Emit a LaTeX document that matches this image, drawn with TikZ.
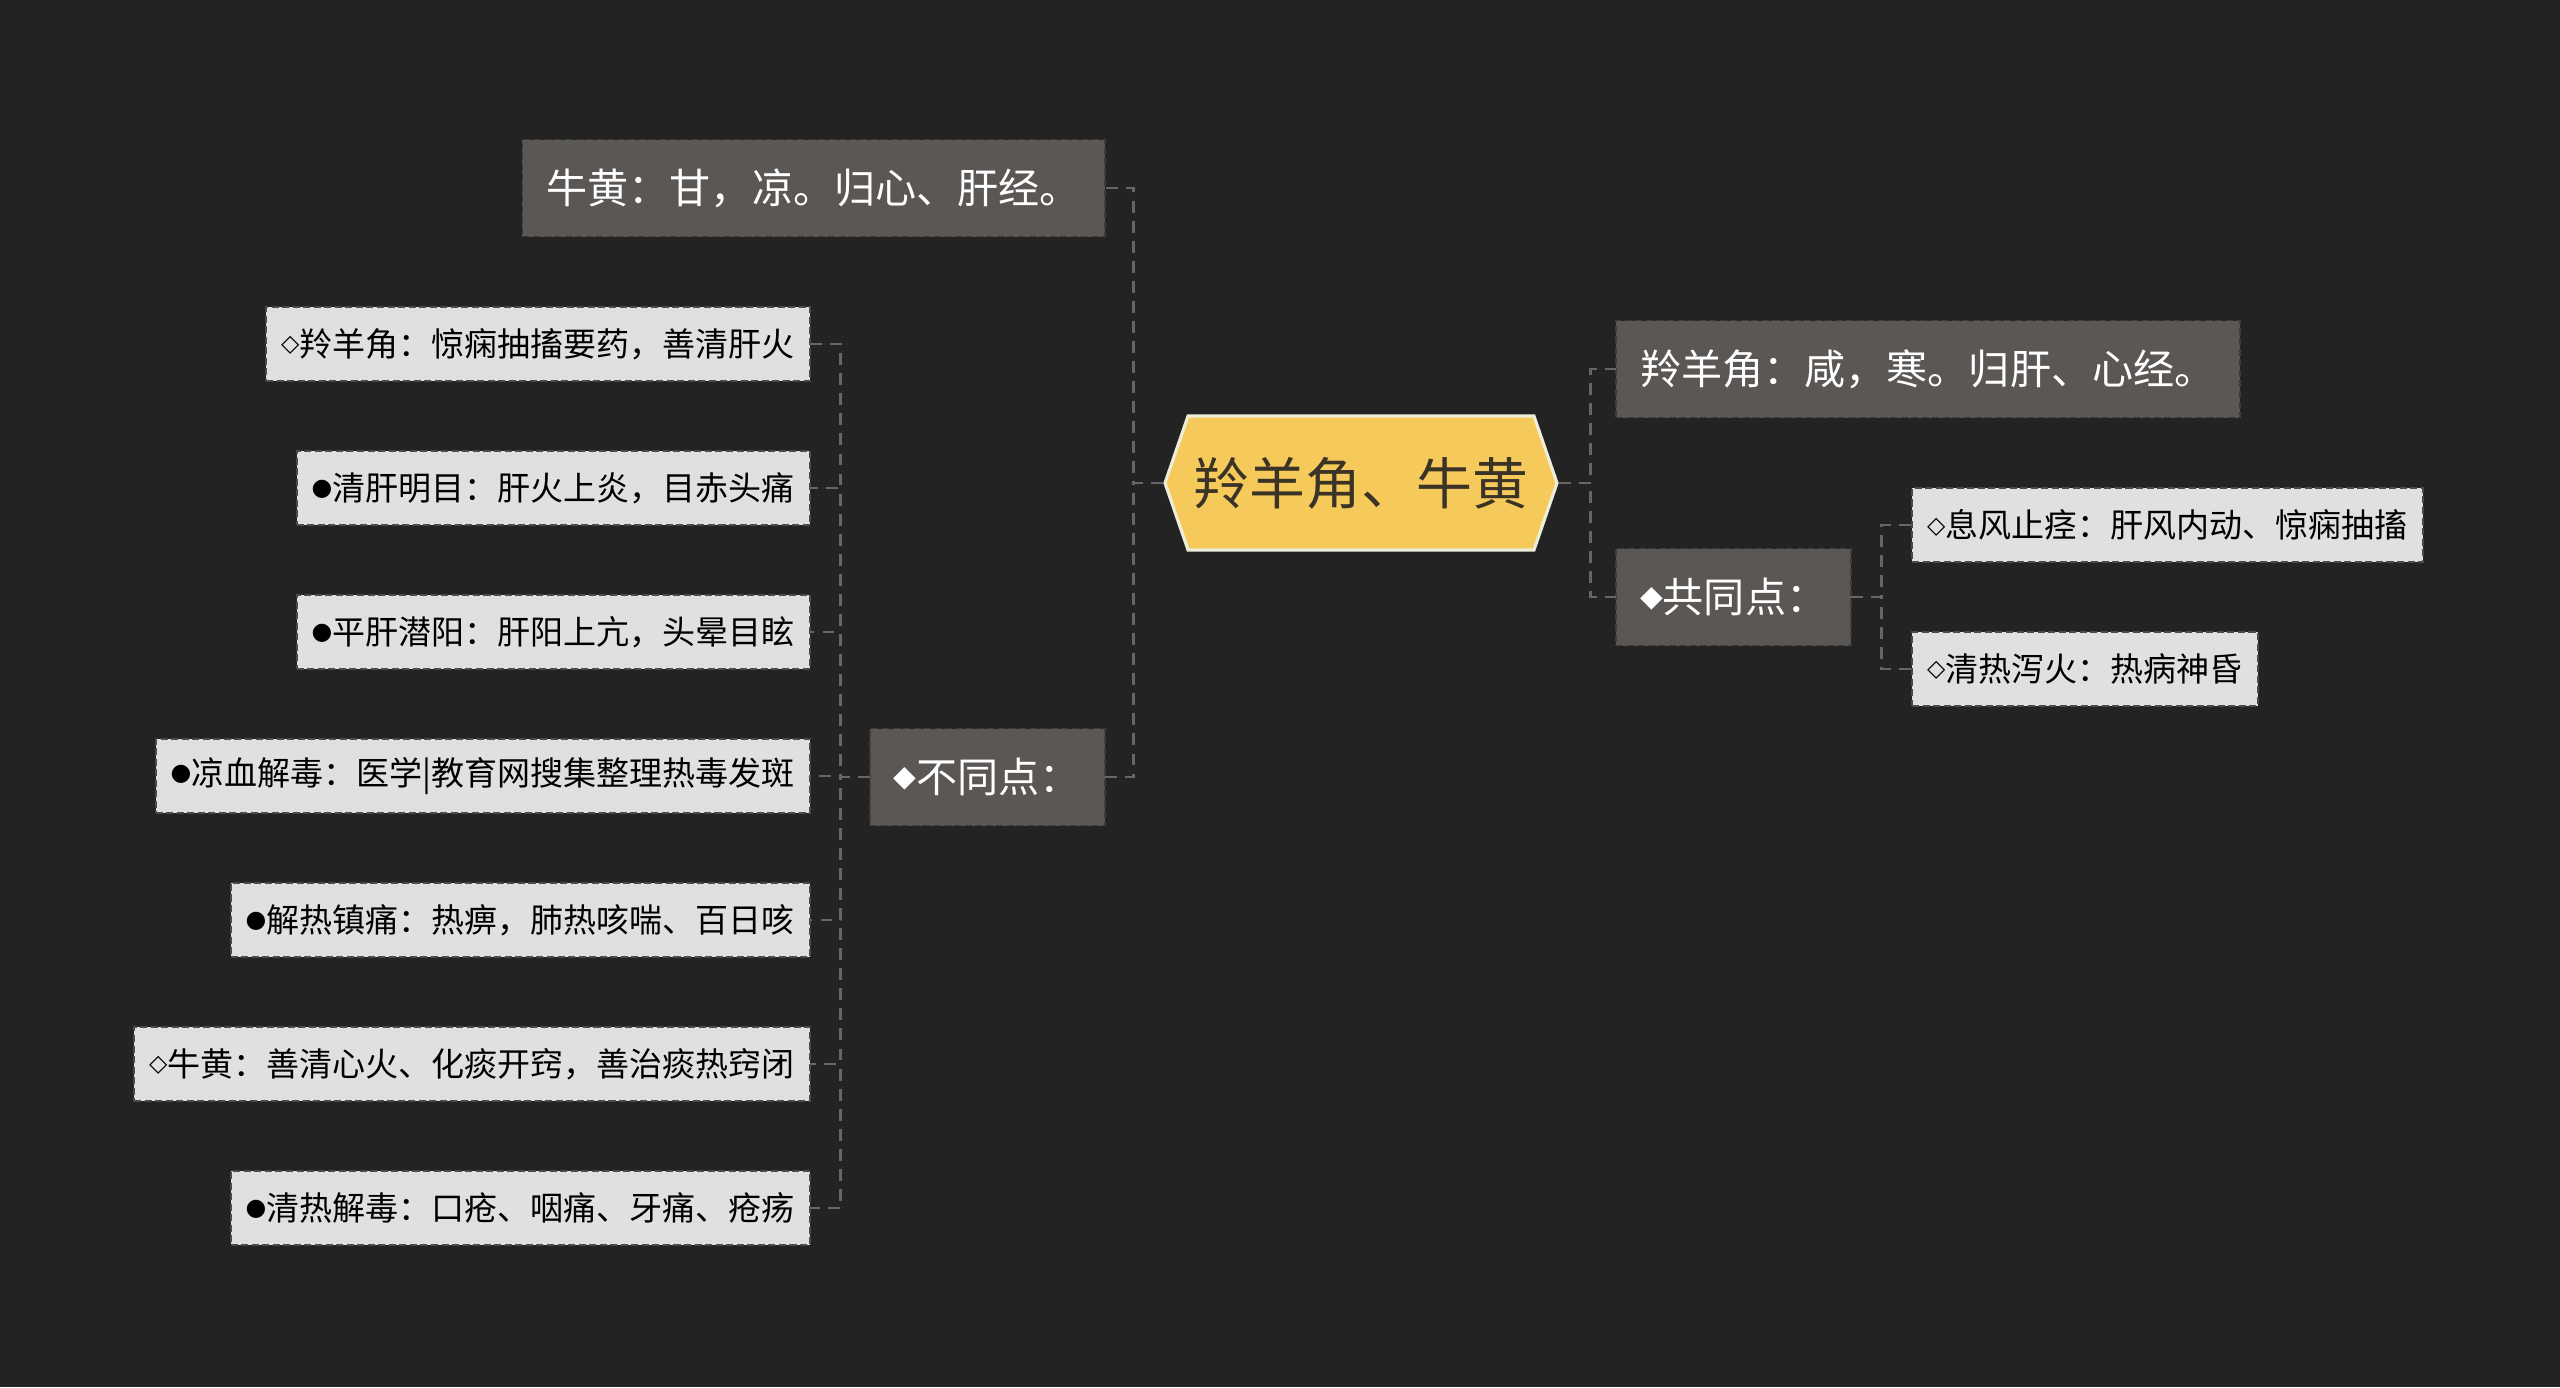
\documentclass[tikz,border=0pt]{standalone}
\usepackage{fontspec}
\setmainfont{Noto Sans CJK SC}
\newfontfamily\symfont{DejaVu Sans}
\usepackage{tikz}
\usetikzlibrary{positioning, shapes.symbols}

\definecolor{bgdark}{HTML}{232323}
\definecolor{hubfill}{HTML}{F5C95A}
\definecolor{hubline}{HTML}{EEEDD9}
\definecolor{hubtext}{HTML}{3A3326}
\definecolor{mainfill}{HTML}{5A5755}
\definecolor{mainline}{HTML}{3E3C3A}
\definecolor{leaffill}{HTML}{E0E0DF}
\definecolor{leafline}{HTML}{4A4A4A}
\definecolor{linkgray}{HTML}{666666}

% small list marks
\newcommand{\mk}[1]{\raisebox{0.14em}{\fontsize{0.72em}{1em}\selectfont\symfont #1}}

\begin{document}
\begin{tikzpicture}[
  hub/.style={signal, signal to=west and east, signal pointer angle=142,
    fill=hubfill, draw=hubline, line width=0.9pt, text=hubtext,
    minimum width=3.92cm, minimum height=1.34cm, inner sep=0pt,
    font=\fontsize{15.9pt}{18pt}\selectfont},
  mainbox/.style={rectangle, fill=mainfill, draw=mainline, line width=0.5pt,
    dash pattern=on 2pt off 1pt, text=white, minimum height=0.97cm,
    inner xsep=0.24cm, inner ysep=0pt, outer sep=0pt,
    font=\fontsize{11.7pt}{14pt}\selectfont},
  leaf/.style={rectangle, fill=leaffill, draw=leafline, line width=0.5pt,
    dash pattern=on 2pt off 1pt, text=black, minimum height=0.74cm,
    inner xsep=0.15cm, inner ysep=0pt, outer sep=0pt,
    font=\fontsize{9.4pt}{12pt}\selectfont},
  link/.style={draw=linkgray, line width=0.75pt, dash pattern=on 3.4pt off 2.3pt},
]
  \fill[bgdark] (0,0) rectangle (25.6,-13.87);
  \useasboundingbox (0,0) rectangle (25.6,-13.87);

  \node[hub] (hub) at (13.61,-4.83) {羚羊角、牛黄};

  % left side
  \node[mainbox, anchor=east] (niu) at (11.05,-1.88) {牛黄：甘，凉。归心、肝经。};
  \node[mainbox, anchor=east] (diff) at (11.05,-7.77) {\mk{◆}不同点：};

  \node[leaf, anchor=east] (d1) at (8.10,-3.44) {\mk{◇}羚羊角：惊痫抽搐要药，善清肝火};
  \node[leaf, below=7mm of d1.south east, anchor=north east] (d2) {\mk{●}清肝明目：肝火上炎，目赤头痛};
  \node[leaf, below=7mm of d2.south east, anchor=north east] (d3) {\mk{●}平肝潜阳：肝阳上亢，头晕目眩};
  \node[leaf, below=7mm of d3.south east, anchor=north east] (d4) {\mk{●}凉血解毒：医学|教育网搜集整理热毒发斑};
  \node[leaf, below=7mm of d4.south east, anchor=north east] (d5) {\mk{●}解热镇痛：热痹，肺热咳喘、百日咳};
  \node[leaf, below=7mm of d5.south east, anchor=north east] (d6) {\mk{◇}牛黄：善清心火、化痰开窍，善治痰热窍闭};
  \node[leaf, below=7mm of d6.south east, anchor=north east] (d7) {\mk{●}清热解毒：口疮、咽痛、牙痛、疮疡};

  % right side
  \node[mainbox, anchor=west] (ling) at (16.16,-3.69) {羚羊角：咸，寒。归肝、心经。};
  \node[mainbox, anchor=west] (same) at (16.16,-5.97) {\mk{◆}共同点：};

  \node[leaf, anchor=west] (s1) at (19.12,-5.25) {\mk{◇}息风止痉：肝风内动、惊痫抽搐};
  \node[leaf, below=7mm of s1.south west, anchor=north west] (s2) {\mk{◇}清热泻火：热病神昏};

  % connectors
  \draw[link] (hub.west) -- ++(-0.30,0) |- (niu.east);
  \draw[link] (hub.west) -- ++(-0.30,0) |- (diff.east);
  \draw[link] (hub.east) -- ++(0.32,0) |- (ling.west);
  \draw[link] (hub.east) -- ++(0.32,0) |- (same.west);
  \foreach \k in {d1,d2,d3,d4,d5,d6,d7}
    \draw[link] (diff.west) -- ++(-0.29,0) |- (\k.east);
  \foreach \k in {s1,s2}
    \draw[link] (same.east) -- ++(0.30,0) |- (\k.west);
\end{tikzpicture}
\end{document}
